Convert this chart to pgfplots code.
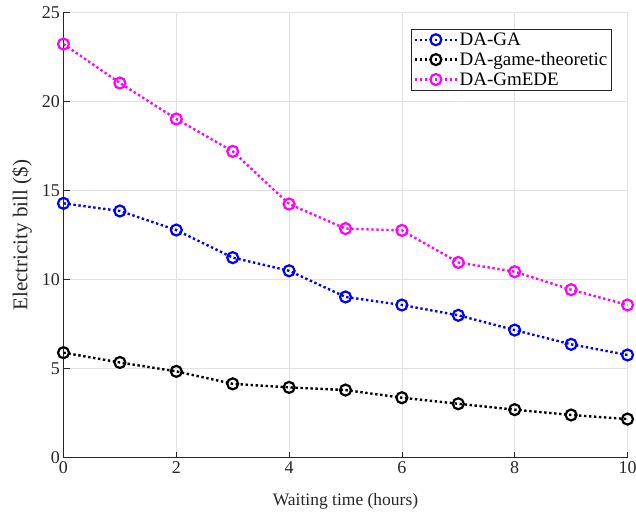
\documentclass[border=0pt]{standalone}
\usepackage{pgfplots}
\pgfplotsset{compat=1.18}
\usepackage{fontspec}
\setmainfont{Liberation Serif}
\definecolor{gridc}{RGB}{226,226,226}
\definecolor{axc}{RGB}{38,38,38}
\definecolor{mag}{RGB}{255,0,255}
\definecolor{blu}{RGB}{0,0,255}
\begin{document}
\begin{tikzpicture}
\begin{axis}[
  scale only axis,
  width=564pt, height=445pt,
  xmin=0, xmax=10, ymin=0, ymax=25,
  xtick={0,2,...,10}, ytick={0,5,...,25},
  axis lines*=left,
  axis line style={axc, line width=0.7pt},
  tick style={axc, line width=0.7pt},
  tick align=inside,
  major tick length=6pt,
  grid=major,
  major grid style={gridc, line width=0.8pt},
  ticklabel style={font=\fontsize{18}{20}\selectfont, text=axc},
  /pgf/number format/assume math mode=true,
  xlabel={Waiting time (hours)},
  ylabel={Electricity bill (\$)},
  xlabel style={font=\fontsize{17.5}{19}\selectfont, text=axc, at={(axis description cs:0.5,-0.098)}, anchor=center},
  ylabel style={font=\fontsize{21}{23}\selectfont, text=axc, at={(axis description cs:-0.0736,0.5)}, anchor=center},
  legend style={at={(0.9707,0.9634)}, anchor=north east, draw=axc,
    font=\fontsize{19}{21}\selectfont, row sep=2.5pt, inner sep=2pt,
    nodes={inner sep=1.5pt}},
  legend cell align=left,
  legend image code/.code={
    \draw[line width=2.4pt, mark repeat=2,mark phase=2] plot coordinates {(0pt,0pt) (21pt,0pt) (42pt,0pt)};},
]
\addplot[blu, line width=2.4pt, dash pattern=on 2.4pt off 2.6pt, mark=o, mark size=5.5pt, mark options={solid, line width=2.2pt}]
 coordinates {(0,14.29) (1,13.86) (2,12.79) (3,11.24) (4,10.5) (5,9.03) (6,8.58) (7,8.0) (8,7.17) (9,6.37) (10,5.77)};
\addlegendentry{DA-GA}
\addplot[black, line width=2.4pt, dash pattern=on 2.4pt off 2.6pt, mark=o, mark size=5.5pt, mark options={solid, line width=2.2pt}]
 coordinates {(0,5.9) (1,5.35) (2,4.85) (3,4.15) (4,3.95) (5,3.80) (6,3.37) (7,3.03) (8,2.70) (9,2.40) (10,2.17)};
\addlegendentry{DA-game-theoretic}
\addplot[mag, line width=2.4pt, dash pattern=on 2.4pt off 2.6pt, mark=o, mark size=5.5pt, mark options={solid, line width=2.2pt}]
 coordinates {(0,23.24) (1,21.05) (2,19.03) (3,17.21) (4,14.25) (5,12.87) (6,12.77) (7,10.97) (8,10.45) (9,9.44) (10,8.58)};
\addlegendentry{DA-GmEDE}
\end{axis}
\pgfresetboundingbox
\path (current axis.south west) ++(-63.5pt,-56.3pt) rectangle ++(636pt,514pt);
\end{tikzpicture}
\end{document}
